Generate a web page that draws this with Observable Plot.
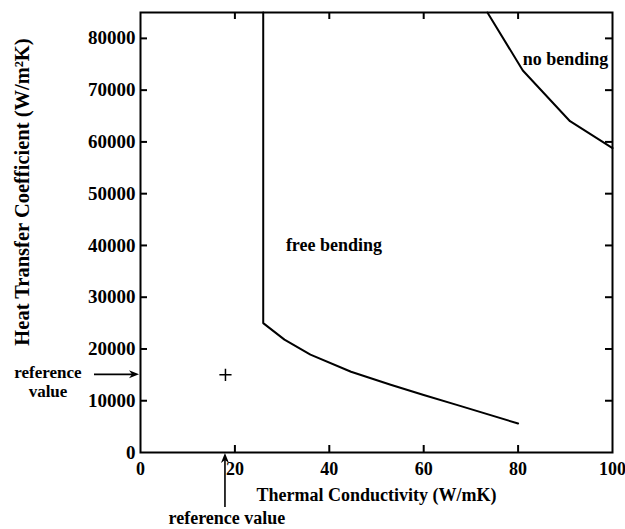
<!DOCTYPE html>
<html><head><meta charset="utf-8">
<script src="https://cdn.jsdelivr.net/npm/d3@7"></script>
<script src="https://cdn.jsdelivr.net/npm/@observablehq/plot@0.6"></script>
<style>body{margin:0;background:#fff}</style>
</head><body><div id="chart"></div>
<script>
// Boundary of the "free bending" region (thermal conductivity vs. heat transfer coefficient)
const freeK = [26, 26, 30.5, 36, 44.6, 53, 60, 67, 80];
const freeH = [85000, 25000, 21800, 18900, 15600, 13100, 11100, 9200, 5600];
// Boundary of the "no bending" region
const noK = [73.5, 81, 91, 100];
const noH = [85000, 73800, 64000, 58800];
// Reference value
const refK = 18;
const refH = 15000;
// Ticks
const xTicks = [0, 20, 40, 60, 80, 100];
const xInnerTicks = [20, 40, 60, 80];
const yTicks = [0, 10000, 20000, 30000, 40000, 50000, 60000, 70000, 80000];
const yInnerTicks = [10000, 20000, 30000, 40000, 50000, 60000, 70000, 80000];
// Region labels
const regionLabels = [
  {k: 30.8, h: 40000, text: "free bending"},
  {k: 81, h: 76000, text: "no bending"}
];
const xTitle = "Thermal Conductivity (W/mK)";
const yTitle = "Heat Transfer Coefficient (W/m²K)";

const freeData = freeK.map((k, i) => ({k, h: freeH[i]}));
const noData = noK.map((k, i) => ({k, h: noH[i]}));

const font = "Liberation Serif, Times New Roman, serif";
const W = 625, H = 529, mL = 140, mR = 13, mT = 12, mB = 77;
const frameW = W - mL - mR, frameH = H - mT - mB, tick = 7;

function decorations(index, scales) {
  const x = scales.x, y = scales.y;
  const xl = x(0), yb = y(0), yt = y(85000);
  const yr = y(refH), xr = x(refK);
  const g = d3.create("svg:g")
    .attr("font-family", font).attr("font-weight", "bold")
    .attr("fill", "black");
  // y title
  g.append("text").attr("transform", `translate(${xl - 118},${yt + 180}) rotate(-90)`)
    .attr("text-anchor", "middle").attr("dy", "0.32em").attr("font-size", 20.5).text(yTitle);
  // left arrow
  g.append("line").attr("x1", xl - 46).attr("x2", xl - 6).attr("y1", yr).attr("y2", yr)
    .attr("stroke", "black").attr("stroke-width", 1.6);
  g.append("path").attr("d", `M${xl - 1},${yr} L${xl - 11},${yr - 4} L${xl - 8},${yr} L${xl - 11},${yr + 4} Z`);
  g.append("text").attr("x", xl - 92).attr("y", yr - 2).attr("dy", "0.32em").attr("text-anchor", "middle").attr("font-size", 17).text("reference");
  g.append("text").attr("x", xl - 92).attr("y", yr + 17).attr("dy", "0.32em").attr("text-anchor", "middle").attr("font-size", 17).text("value");
  // bottom arrow
  g.append("line").attr("x1", xr).attr("x2", xr).attr("y1", yb + 55).attr("y2", yb + 6)
    .attr("stroke", "black").attr("stroke-width", 1.6);
  g.append("path").attr("d", `M${xr},${yb + 1} L${xr - 4},${yb + 11} L${xr},${yb + 8} L${xr + 4},${yb + 11} Z`);
  g.append("text").attr("x", xr + 2).attr("y", yb + 66).attr("dy", "0.32em").attr("text-anchor", "middle").attr("font-size", 18).text("reference value");
  return g.node();
}

const chart = Plot.plot({
  width: W,
  height: H,
  marginLeft: mL,
  marginRight: mR,
  marginTop: mT,
  marginBottom: mB,
  style: {fontFamily: font, fontSize: "19px", fontWeight: "bold", background: "white", color: "black", overflow: "visible"},
  x: {domain: [0, 100]},
  y: {domain: [0, 85000]},
  marks: [
    // inward ticks on all four sides
    Plot.ruleX(xInnerTicks, {x: d => d, insetTop: frameH - tick, stroke: "black", strokeWidth: 2}),
    Plot.ruleX(xInnerTicks, {x: d => d, insetBottom: frameH - tick, stroke: "black", strokeWidth: 2}),
    Plot.ruleY(yInnerTicks, {y: d => d, insetRight: frameW - tick, stroke: "black", strokeWidth: 2}),
    Plot.ruleY(yInnerTicks, {y: d => d, insetLeft: frameW - tick, stroke: "black", strokeWidth: 2}),
    Plot.line(freeData, {x: "k", y: "h", stroke: "black", strokeWidth: 2}),
    Plot.line(noData, {x: "k", y: "h", stroke: "black", strokeWidth: 2}),
    Plot.dot([{k: refK, h: refH}], {x: "k", y: "h", symbol: "plus", r: 4, stroke: "black", strokeWidth: 1.5}),
    Plot.text(regionLabels, {x: "k", y: "h", text: "text", textAnchor: "start", lineAnchor: "middle", fontSize: 18, fontWeight: "bold", fill: "black"}),
    Plot.axisX(xTicks, {anchor: "bottom", tickSize: 0, tickPadding: 10, fontSize: 18, tickFormat: d => String(d),
      label: xTitle, labelAnchor: "center", labelOffset: 48, labelArrow: "none"}),
    Plot.axisY(yTicks, {anchor: "left", tickSize: 0, tickPadding: 5, tickFormat: d => String(d), label: null}),
    Plot.frame({stroke: "black", strokeWidth: 2}),
    decorations
  ]
});
document.getElementById("chart").append(chart);
</script>
</body></html>
